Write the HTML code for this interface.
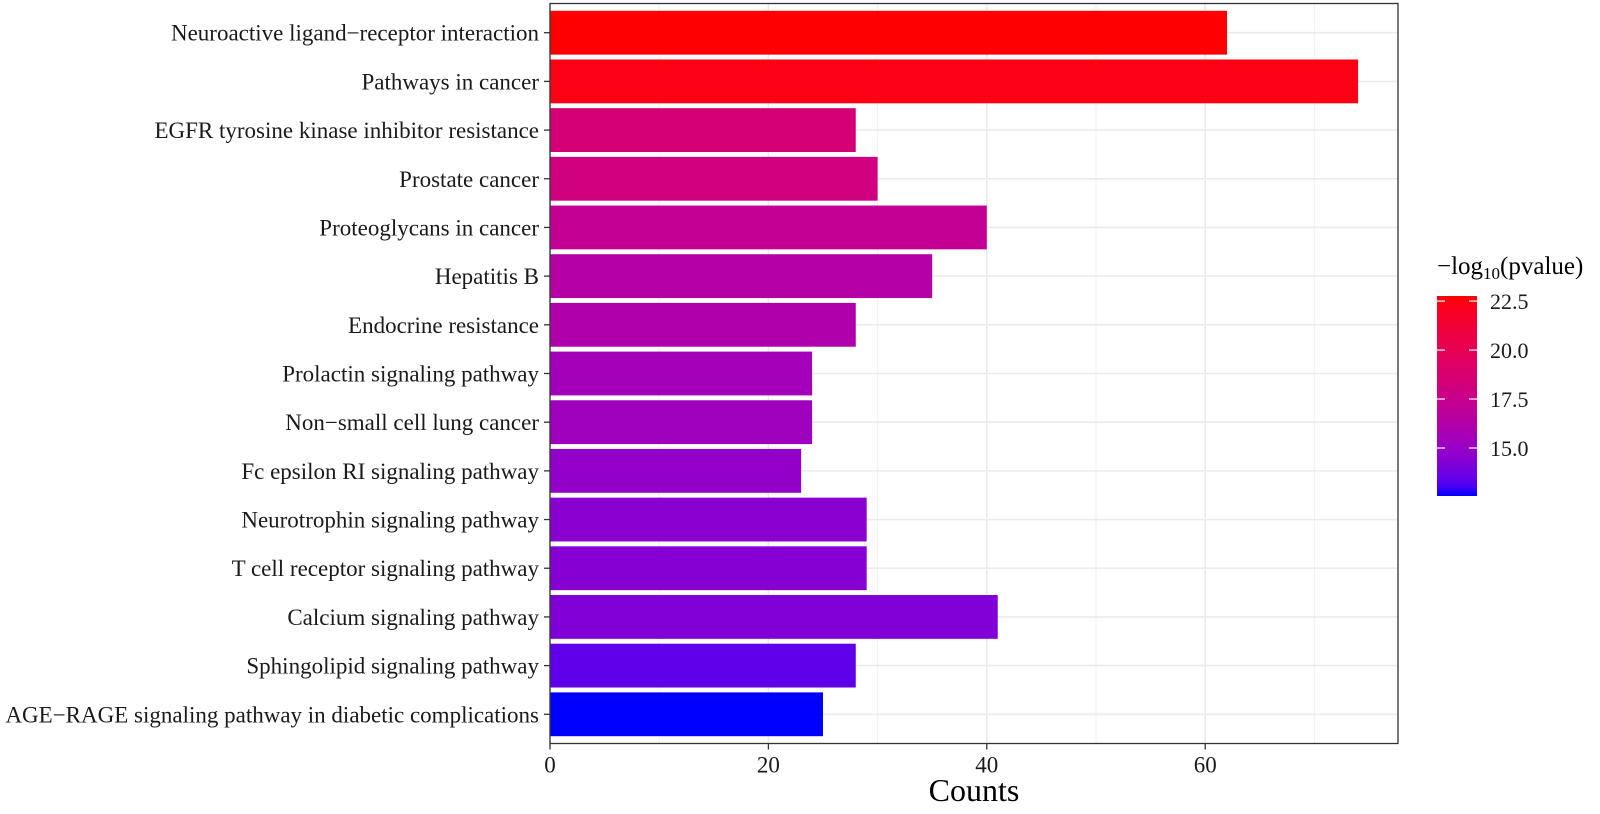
<!DOCTYPE html>
<html><head><meta charset="utf-8"><style>
body{margin:0;background:#fff}
svg text{font-family:"Liberation Serif",serif}
</style></head><body>
<svg id="chart" width="1600" height="809" xmlns="http://www.w3.org/2000/svg">
<g id="grid"></g>
<g id="bars"></g>
<rect x="550" y="3.5" width="848" height="740" fill="none" stroke="#333" stroke-width="1.3"/>
<g id="yaxis"></g>
<g id="xaxis"></g>
<text x="974" y="801" font-size="32" text-anchor="middle" fill="#000">Counts</text>
<g>
<text x="1437" y="274" font-size="25" fill="#000">−log<tspan font-size="17" dy="5">10</tspan><tspan dy="-5">(pvalue)</tspan></text>
<defs><linearGradient id="cbg" x1="0" y1="1" x2="0" y2="0"></linearGradient></defs>
<rect x="1437" y="296" width="40" height="200" fill="url(#cbg)"/>
<g id="cbticks"></g>
</g>
</svg>
<script>
const categories=["Neuroactive ligand−receptor interaction","Pathways in cancer","EGFR tyrosine kinase inhibitor resistance","Prostate cancer","Proteoglycans in cancer","Hepatitis B","Endocrine resistance","Prolactin signaling pathway","Non−small cell lung cancer","Fc epsilon RI signaling pathway","Neurotrophin signaling pathway","T cell receptor signaling pathway","Calcium signaling pathway","Sphingolipid signaling pathway","AGE−RAGE signaling pathway in diabetic complications"];
const counts=[62,74,28,30,40,35,28,24,24,23,29,29,41,28,25];
const logp=[22.76,22.4,18.5,18.1,17.2,16.4,16.1,15.5,15.3,14.8,14.5,14.4,14.2,13.4,12.55];
const xTicks=[0,20,40,60];
const xMinor=[10,30,50,70];
const cbTicks=[15.0,17.5,20.0,22.5];
const NS="http://www.w3.org/2000/svg";
const X0=550,XU=10.92,YT=3.5,YB=743.5;
const band=(YB-YT)/(categories.length+0.2);
const xs=v=>X0+v*XU;
const ys=i=>YT+band*0.6+i*band;
const pmin=Math.min(...logp),pmax=Math.max(...logp);
const cbY=v=>496-(v-pmin)/(pmax-pmin)*200;
function mk(t,a,p){const e=document.createElementNS(NS,t);for(const k in a)e.setAttribute(k,a[k]);p.appendChild(e);return e;}
function s2l(c){c/=255;return c<=0.04045?c/12.92:Math.pow((c+0.055)/1.055,2.4);}
function l2s(c){c=c<=0.0031308?12.92*c:1.055*Math.pow(c,1/2.4)-0.055;return Math.max(0,Math.min(255,Math.round(c*255)));}
function toLab(r,g,b){r=s2l(r);g=s2l(g);b=s2l(b);let x=(r*0.4124+g*0.3576+b*0.1805)/0.95047,y=r*0.2126+g*0.7152+b*0.0722,z=(r*0.0193+g*0.1192+b*0.9505)/1.08883;const f=t=>t>0.008856?Math.cbrt(t):7.787*t+16/116;x=f(x);y=f(y);z=f(z);return[116*y-16,500*(x-y),200*(y-z)];}
function fromLab(L,a,b){let y=(L+16)/116,x=a/500+y,z=y-b/200;const f=t=>t*t*t>0.008856?t*t*t:(t-16/116)/7.787;x=f(x)*0.95047;y=f(y);z=f(z)*1.08883;const r=x*3.2406+y*-1.5372+z*-0.4986,g=x*-0.9689+y*1.8758+z*0.0415,bb=x*0.0557+y*-0.2040+z*1.0570;return`rgb(${l2s(r)},${l2s(g)},${l2s(bb)})`;}
const LB=toLab(0,0,255),LR=toLab(255,0,0);
function col(v){const t=(v-pmin)/(pmax-pmin);return fromLab(LB[0]+(LR[0]-LB[0])*t,LB[1]+(LR[1]-LB[1])*t,LB[2]+(LR[2]-LB[2])*t);}
const grid=document.getElementById('grid');
xMinor.forEach(v=>{const l=mk('line',{x1:xs(v),x2:xs(v),y1:YT,y2:YB,stroke:'#f2f2f2','stroke-width':1},grid);});
xTicks.forEach(v=>{const l=mk('line',{x1:xs(v),x2:xs(v),y1:YT,y2:YB,stroke:'#ebebeb','stroke-width':1.6},grid);});
categories.forEach((c,i)=>{const l=mk('line',{x1:X0,x2:1398,y1:ys(i),y2:ys(i),stroke:'#ebebeb','stroke-width':1.6},grid);});
const bars=document.getElementById('bars'),ya=document.getElementById('yaxis');
categories.forEach((c,i)=>{
const r=mk('rect',{x:xs(0),y:ys(i)-band*0.45,width:xs(counts[i])-xs(0),height:band*0.9,fill:col(logp[i])},bars);


const t=mk('line',{x1:544,x2:550,y1:ys(i),y2:ys(i),stroke:'#333','stroke-width':1.3},ya);


const tx=mk('text',{x:539,y:ys(i)+8,'font-size':23,'text-anchor':'end',fill:'#1a1a1a'},ya);tx.textContent=c;


});
const xa=document.getElementById('xaxis');
xTicks.forEach(v=>{
const t=mk('line',{x1:xs(v),x2:xs(v),y1:YB,y2:YB+6,stroke:'#333','stroke-width':1.3},xa);


const tx=mk('text',{x:xs(v),y:YB+29,'font-size':23,'text-anchor':'middle',fill:'#1a1a1a'},xa);tx.textContent=v;


});
const g=document.getElementById('cbg');
for(let k=0;k<=20;k++){mk('stop',{offset:(k/20),'stop-color':col(pmin+(pmax-pmin)*k/20)},g);}
const cbt=document.getElementById('cbticks');
cbTicks.forEach(v=>{const y=cbY(v);
mk('line',{x1:1437,x2:1445,y1:y,y2:y,stroke:'#fff','stroke-width':1.2},cbt);
mk('line',{x1:1469,x2:1477,y1:y,y2:y,stroke:'#fff','stroke-width':1.2},cbt);
const tx=mk('text',{x:1490,y:y+8,'font-size':22,fill:'#1a1a1a'},cbt);tx.textContent=v.toFixed(1);


});
</script>
</body></html>
